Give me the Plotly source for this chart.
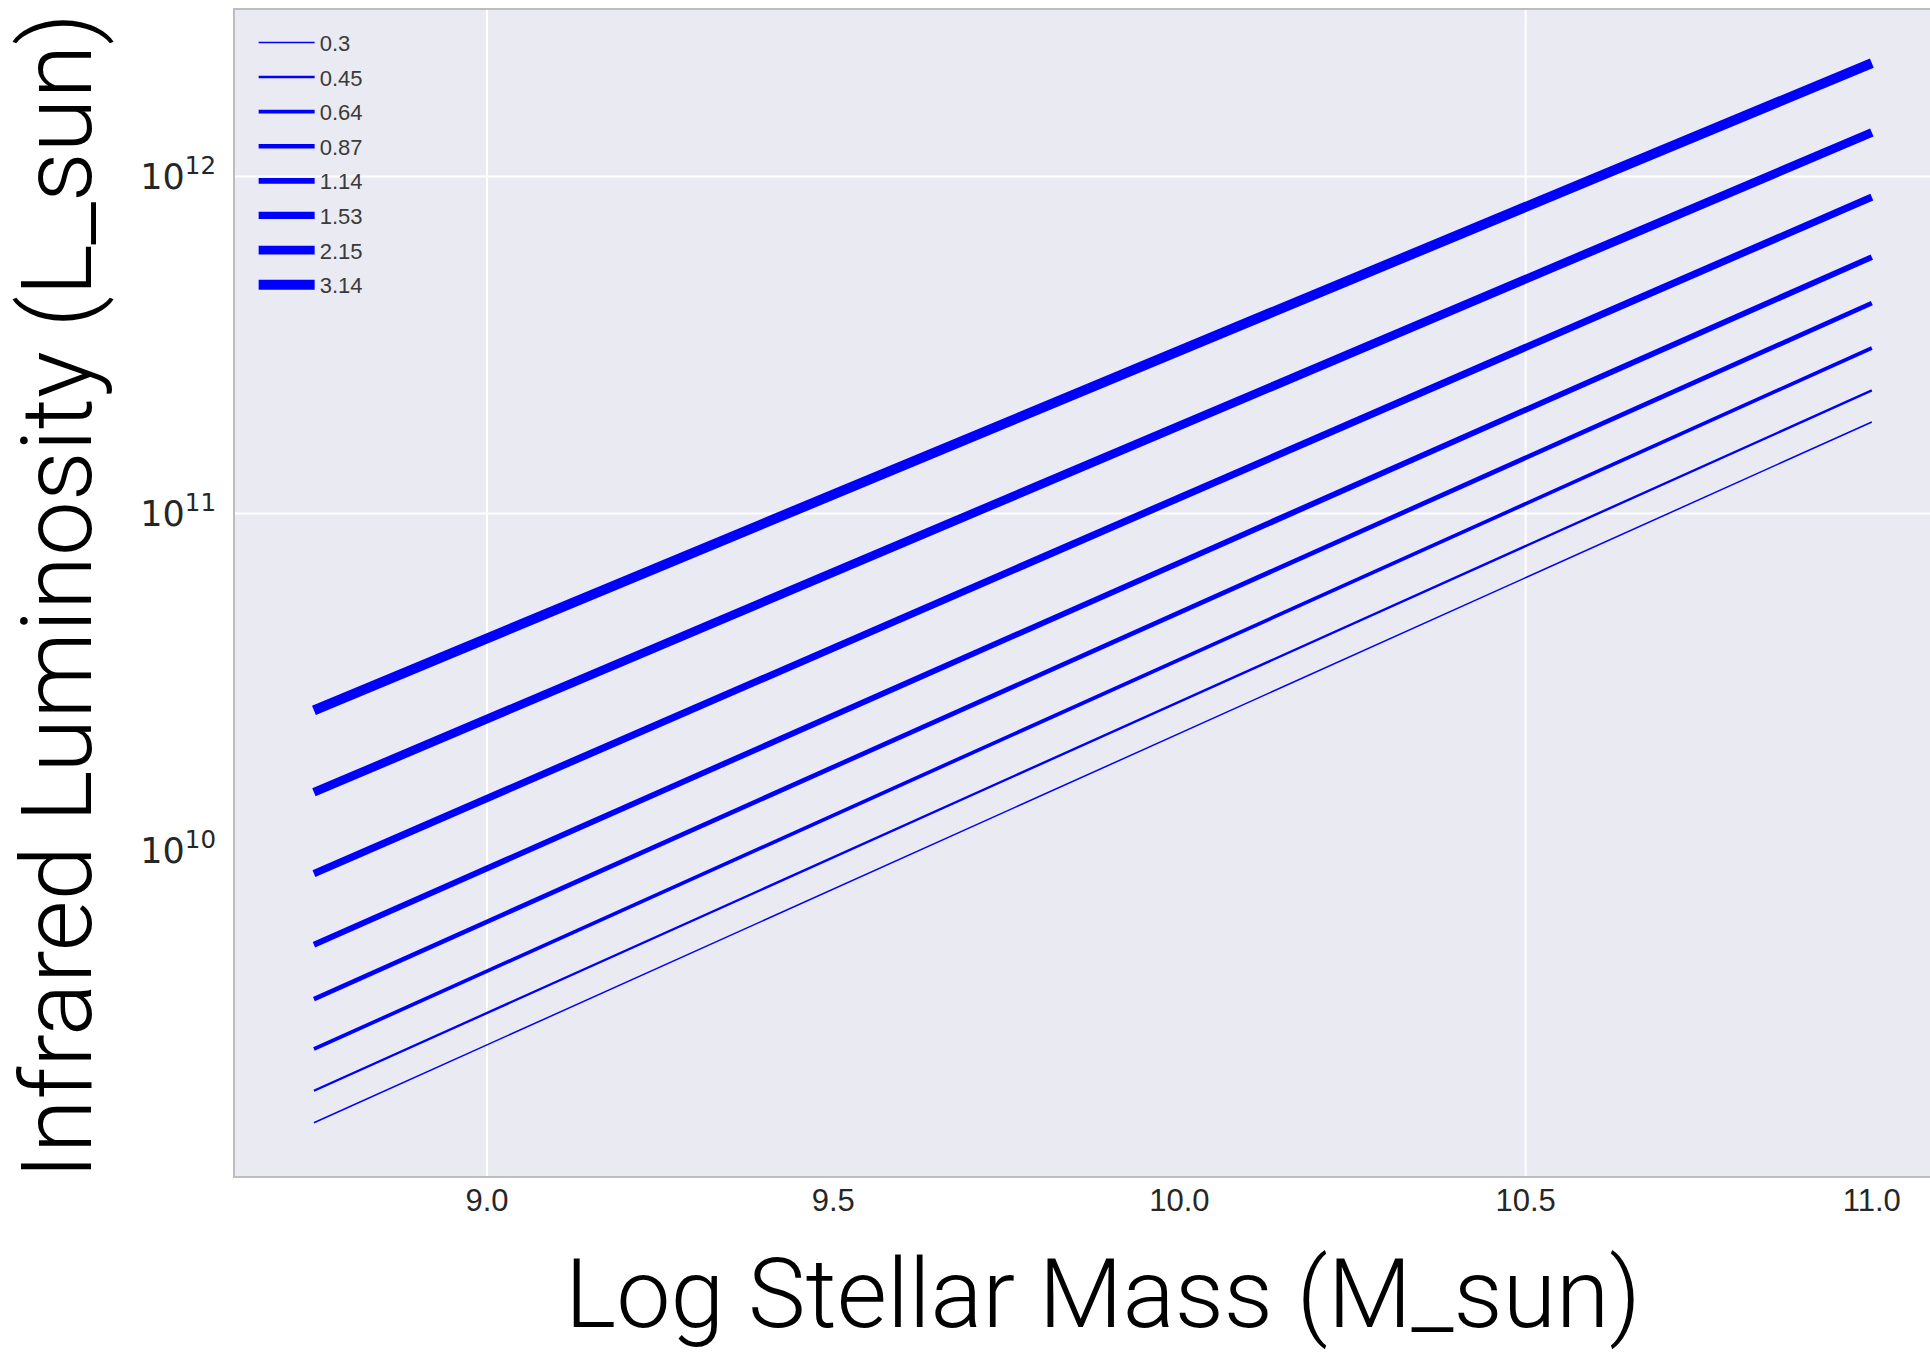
import plotly.graph_objects as go

# Log stellar mass at the two ends of each relation
log_mass = [8.75, 11.0]

# One relation per redshift
redshift_labels = ["0.3", "0.45", "0.64", "0.87", "1.14", "1.53", "2.15", "3.14"]
lum_at_low_mass = [1.56e9, 1.94e9, 2.58e9, 3.63e9, 5.26e9, 8.55e9, 1.49e10, 2.61e10]
lum_at_high_mass = [1.87e11, 2.32e11, 3.10e11, 4.21e11, 5.77e11, 8.69e11, 1.35e12, 2.17e12]

# Axis ticks
x_tickvals = [9.0, 9.5, 10.0, 10.5, 11.0]
x_ticktext = ["9.0", "9.5", "10.0", "10.5", "11.0"]
y_tickvals = [1e10, 1e11, 1e12]
y_ticktext = ["10<sup>10</sup>", "10<sup>11</sup>", "10<sup>12</sup>"]

# Styling: thicker line for higher redshift
line_widths = [1.5, 2.4, 3.7, 4.7, 5.8, 7.2, 8.7, 10.0]
LINE_COLOR = "#0000ff"
BG = "#eaeaf2"
TEXT = "#262626"

fig = go.Figure()
for label, lo, hi, w in zip(redshift_labels, lum_at_low_mass, lum_at_high_mass, line_widths):
    fig.add_trace(go.Scatter(
        x=log_mass,
        y=[lo, hi],
        mode="lines",
        name=label,
        legendgroup=label,
        line=dict(color=LINE_COLOR, width=w),
    ))

# White grid lines where they show
grid_style = dict(color="white", width=2)
for xv in [9.0, 10.5]:
    fig.add_shape(type="line", xref="x", yref="paper", x0=xv, x1=xv, y0=0, y1=1,
                  line=grid_style, layer="below")
for yv in [1e11, 1e12]:
    fig.add_shape(type="line", xref="paper", yref="y", x0=0, x1=1, y0=yv, y1=yv,
                  line=grid_style, layer="below")

fig.update_layout(
    width=1930,
    height=1353,
    margin=dict(l=235, r=0, t=10, b=177),
    paper_bgcolor="white",
    plot_bgcolor=BG,
    showlegend=True,
    legend=dict(
        x=0.011, y=0.990, xanchor="left", yanchor="top",
        bgcolor="rgba(0,0,0,0)",
        font=dict(family="Liberation Sans, Arial, sans-serif", size=22, color="#3a3a3a"),
        tracegroupgap=3,
        itemwidth=56,
    ),
    xaxis=dict(
        range=[8.636, 11.084],
        tickmode="array", tickvals=x_tickvals, ticktext=x_ticktext,
        showgrid=False, zeroline=False,
        showline=True, linecolor="#bdbdbd", linewidth=2, mirror=True,
        ticks="", ticklabelstandoff=-4,
        tickfont=dict(family="Liberation Sans, Arial, sans-serif", size=31, color=TEXT),
    ),
    yaxis=dict(
        type="log",
        range=[9.035, 12.494],
        tickmode="array", tickvals=y_tickvals, ticktext=y_ticktext,
        showgrid=False, zeroline=False,
        showline=True, linecolor="#bdbdbd", linewidth=2, mirror=False,
        ticks="", ticklabelstandoff=10,
        tickfont=dict(family="DejaVu Sans, sans-serif", size=35, color=TEXT),
    ),
    annotations=[
        dict(text="Log Stellar Mass (M_sun)", xref="paper", yref="paper",
             x=0.512, y=0, xanchor="center", yanchor="top", yshift=-59,
             showarrow=False,
             font=dict(family="Roboto, Lato, sans-serif", size=97, color="black", weight=300)),
        dict(text="Infrared Luminosity (L_sun)", xref="paper", yref="paper",
             x=0, y=0.497, xanchor="center", yanchor="middle", xshift=-178,
             textangle=-90, showarrow=False,
             font=dict(family="Roboto, Lato, sans-serif", size=98, color="black", weight=300)),
    ],
)

fig.write_html("out.html")
